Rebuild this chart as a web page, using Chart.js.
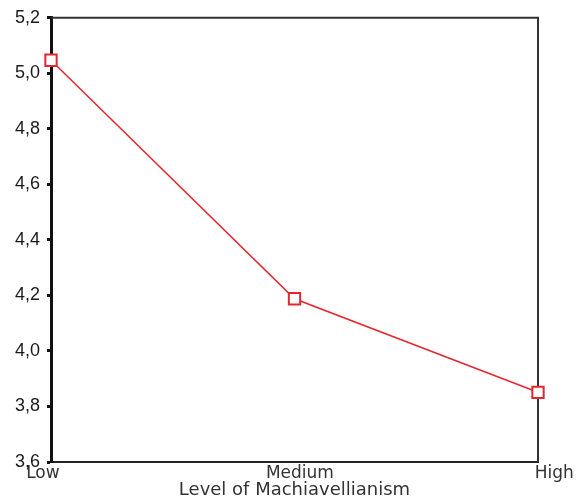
<!DOCTYPE html>
<html>
<head>
<meta charset="utf-8">
<script src="https://cdn.jsdelivr.net/npm/chart.js@4/dist/chart.umd.min.js"></script>
<style>
  html, body { margin: 0; padding: 0; background: #fff; }
  #wrap { width: 580px; height: 500px; }
</style>
</head>
<body>
<div id="wrap"><canvas id="machChart"></canvas></div>
<script>
// Niveles de maquiavelismo y medias
const categories = ['Low', 'Medium', 'High'];
const meanValues = [5.047, 4.188, 3.851];
const yTicks = [3.6, 3.8, 4.0, 4.2, 4.4, 4.6, 4.8, 5.0, 5.2];

// marco superior y derecho del área del gráfico
const frameBox = {
    id: 'frameBox',
    beforeDatasetsDraw(chart) {
        const { ctx, chartArea: a } = chart;
        ctx.save();
        ctx.strokeStyle = '#333';
        ctx.lineWidth = 2;
        ctx.beginPath();
        ctx.moveTo(a.left, a.top);
        ctx.lineTo(a.right, a.top);
        ctx.lineTo(a.right, a.bottom);
        ctx.stroke();
        ctx.restore();
    }
};

// espacios para desplazar las etiquetas como en el original
const padBefore = ['', '  ', '      '];
const padAfter = ['   ', '', ''];

new Chart(document.getElementById('machChart'), {
    type: 'line',
    data: {
        labels: categories,
        datasets: [{
            data: meanValues,
            borderColor: '#e3262f',
            borderWidth: 1.5,
            backgroundColor: '#fff',
            pointStyle: 'rect',
            pointRadius: 8,
            pointBorderWidth: 2,
            pointBorderColor: '#e3262f',
            pointBackgroundColor: '#fff',
            tension: 0,
            clip: false
        }]
    },
    options: {
        responsive: true,
        maintainAspectRatio: false,
        animation: false,
        layout: { padding: { top: 16, right: 42, left: 0, bottom: 0 } },
        plugins: { legend: { display: false }, tooltip: { enabled: false } },
        scales: {
            x: {
                offset: false,
                grid: { display: false, drawTicks: false },
                border: { display: true, color: '#222', width: 2 },
                ticks: {
                    padding: 3,
                    color: '#333',
                    font: { family: 'DejaVu Sans', size: 17, lineHeight: 1 },
                    maxRotation: 0,
                    autoSkip: false,
                    callback: (v, i) => padBefore[i] + categories[i] + padAfter[i]
                },
                title: {
                    display: true,
                    text: 'Level of Machiavellianism',
                    color: '#333',
                    font: { family: 'DejaVu Sans', size: 18, lineHeight: 1 },
                    padding: { top: 0, bottom: 1 }
                },
                afterFit(scale) {
                    scale.height = 38;
                    scale.paddingLeft = 0;
                    scale.paddingRight = 0;
                }
            },
            y: {
                min: 3.6,
                max: 5.2,
                afterBuildTicks(scale) {
                    scale.ticks = yTicks.map(v => ({ value: v }));
                },
                grid: {
                    drawOnChartArea: false,
                    color: '#111',
                    tickLength: 4,
                    tickWidth: 3
                },
                border: { display: true, color: '#111', width: 3 },
                ticks: {
                    padding: 7,
                    color: '#1a1a1a',
                    font: { family: 'Liberation Sans', size: 18 },
                    callback: v => v.toFixed(1).replace('.', ',')
                },
                afterFit(scale) {
                    scale.width = 51;
                }
            }
        }
    },
    plugins: [frameBox]
});
</script>
</body>
</html>
